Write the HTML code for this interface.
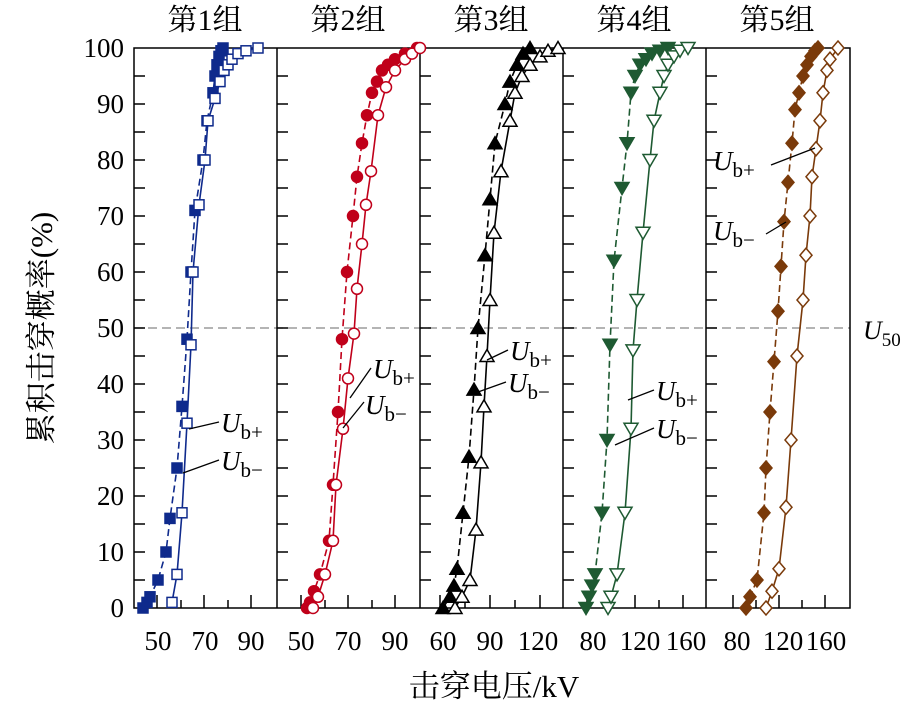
<!DOCTYPE html>
<html><head><meta charset="utf-8"><style>
html,body{margin:0;padding:0;background:#fff;}
svg{display:block;font-family:"Liberation Serif","Noto Serif CJK SC",serif;}
</style></head><body>
<svg id="s" width="912" height="704" viewBox="0 0 912 704" xmlns="http://www.w3.org/2000/svg">
<g font-size="30" text-anchor="middle" fill="#000">
<text x="205" y="30">第1组</text><text x="348" y="30">第2组</text><text x="491" y="30">第3组</text><text x="634" y="30">第4组</text><text x="777" y="30">第5组</text>
</g>
<text transform="translate(52,328) rotate(-90)" font-size="31" text-anchor="middle">累积击穿概率(%)</text>
<text x="494" y="697" font-size="31" text-anchor="middle">击穿电压/kV</text>
<g id="yl" font-size="27" text-anchor="end"></g>
<g id="xl" font-size="27" text-anchor="middle"></g>
<line x1="134" y1="328" x2="850" y2="328" stroke="#888" stroke-width="1.3" stroke-dasharray="9,5"/>
<text x="863" y="339" font-size="26" font-style="italic">U<tspan font-style="normal" font-size="19" dy="7">50</tspan></text>
<g id="ax" stroke="#000" stroke-width="1.5" fill="none"></g>
<g id="data"></g>
<g id="ann" font-size="27" stroke-width="1.3"></g>
</svg>
<script>
var NS="http://www.w3.org/2000/svg";
function el(p,t,a,txt){var e=document.createElementNS(NS,t);for(var k in a)e.setAttribute(k,a[k]);if(txt!=null)e.textContent=txt;document.getElementById(p).appendChild(e);return e;}
function Y(p){return 608-5.6*p;}
var B=[134,277,420,563,706,850];
el('ax','rect',{x:134,y:48,width:716,height:560});
for(var i=1;i<5;i++)el('ax','line',{x1:B[i],y1:48,x2:B[i],y2:608});
for(i=0;i<5;i++)for(var p=5;p<100;p+=5)el('ax','line',{x1:B[i],y1:Y(p),x2:B[i]+11,y2:Y(p)});
for(p=0;p<=100;p+=10)el('yl','text',{x:124,y:Y(p)+9},p);
var xt=[[157,181,204,228,251],[301,325,348,372,395],[440,465,490,515,540],[587,611,635,659,683],[733,756,779,802,825]];
var xlab=[[[158,50],[205,70],[251,90]],[[301,50],[348,70],[395,90]],[[443,60],[490,90],[538,120]],[[593,80],[640,120],[686,160]],[[737,80],[783,120],[826,160]]];
xt.forEach(function(a){a.forEach(function(x,k){el('ax','line',{x1:x,y1:608,x2:x,y2:608-(k%2==0?13:8)});});});
xlab.forEach(function(a){a.forEach(function(v){el('xl','text',{x:v[0],y:650},v[1]);});});
function marker(m,x,y,col,fill){var f=fill?col:'#fff',s=5;
 if(m=='sq')el('data','rect',{x:x-s,y:y-s,width:2*s,height:2*s,fill:f,stroke:col,'stroke-width':1.5});
 else if(m=='ci')el('data','circle',{cx:x,cy:y,r:5.5,fill:f,stroke:col,'stroke-width':1.5});
 else if(m=='tu')el('data','polygon',{points:(x)+','+(y-6.5)+' '+(x-7)+','+(y+5.5)+' '+(x+7)+','+(y+5.5),fill:f,stroke:col,'stroke-width':1.5});
 else if(m=='td')el('data','polygon',{points:(x)+','+(y+6.5)+' '+(x-7)+','+(y-5.5)+' '+(x+7)+','+(y-5.5),fill:f,stroke:col,'stroke-width':1.5});
 else el('data','polygon',{points:x+','+(y-7)+' '+(x+6)+','+y+' '+x+','+(y+7)+' '+(x-6)+','+y,fill:f,stroke:col,'stroke-width':1.5});}
function series(d,m,col,fill){var pts=d.map(function(q){return[q[1],Y(q[0])];});
 el('data','polyline',{points:pts.map(function(q){return q[0].toFixed(1)+','+q[1].toFixed(1)}).join(' '),fill:'none',stroke:col,'stroke-width':1.6,'stroke-dasharray':fill?'7,4':'none'});
 pts.forEach(function(q){marker(m,q[0],q[1],col,fill);});}
var BL='#0f2a8c',RD='#c0001a',BK='#000',GR='#1e5a32',BR='#7a3a0a';
series([[0,143],[1,147],[2,150],[5,158],[10,166],[16,170],[25,177],[36,182],[48,187],[60,191],[71,195],[80,203],[87,207],[92,213],[95,215],[97,217],[98.5,219],[99.5,221],[100,223]],'sq',BL,1);
series([[1,172],[6,177],[17,182],[33,187],[47,191],[60,193],[72,199],[80,205],[87,208],[91,215],[94,220],[96,224],[97,228],[98,232],[99,238],[99.5,246],[100,258]],'sq',BL,0);
series([[0,307],[1,310],[3,314],[6,320],[12,329],[22,333],[35,338],[48,342],[60,347],[70,353],[77,357],[83,362],[88,367],[92,372],[94,377],[96,382],[97,388],[98,395],[99,405],[100,417]],'ci',RD,1);
series([[0,313],[2,318],[6,325],[12,333],[22,336],[32,343],[41,348],[49,354],[57,357],[65,362],[72,366],[78,371],[88,378],[93,386],[96,395],[98,405],[99,412],[100,420]],'ci',RD,0);
series([[0,443],[2,450],[4,454],[7,457],[17,463],[27,469],[39,474],[50,478],[63,485],[73,490],[83,495],[90,505],[94,510],[97,517],[99,523],[100,530]],'tu',BK,1);
series([[0,455],[2,462],[5,470],[14,476],[26,481],[36,484],[45,487],[55,490],[67,494],[78,501],[87,510],[92,515],[95,522],[97,530],[98.5,540],[99.5,548],[100,558]],'tu',BK,0);
series([[0,586],[2,589],[4,592],[6,595],[17,602],[30,607],[47,610],[62,614],[75,622],[83,627],[92,631],[95,635],[97,640],[98,646],[99,652],[99.5,660],[100,668]],'td',GR,1);
series([[0,608],[2,611],[6,617],[17,625],[32,631],[46,633],[55,637],[67,643],[80,650],[87,654],[92,660],[95,664],[97,668],[98.5,674],[99.5,680],[100,688]],'td',GR,0);
series([[0,746],[2,750],[5,757],[17,764],[25,766],[35,770],[44,774],[53,778],[61,781],[69,784],[76,788],[83,792],[89,795],[92,799],[95,803],[97,807],[98.5,811],[99.5,815],[100,818]],'di',BR,1);
series([[0,766],[3,772],[7,779],[18,786],[30,791],[45,797],[55,803],[63,806],[70,810],[77,812],[82,816],[87,820],[92,823],[96,827],[98,830],[100,838]],'di',BR,0);
function lab(x,y,t,lx1,ly1,lx2,ly2){el('ann','line',{x1:lx1,y1:ly1,x2:lx2,y2:ly2,stroke:'#000'});var e=el('ann','text',{x:x,y:y,'font-style':'italic'},'U');var ts=document.createElementNS(NS,'tspan');ts.setAttribute('font-style','normal');ts.setAttribute('font-size','21');ts.setAttribute('dy','7');ts.textContent=t;e.appendChild(ts);}
lab(221,432,'b+',219,422,189,429);lab(221,470,'b−',219,460,183,473);
lab(373,378,'b+',371,368,350,398);lab(365,414,'b−',364,402,343,428);
lab(510,360,'b+',508,350,487,360);lab(508,392,'b−',506,382,478,392);
lab(656,400,'b+',654,390,628,400);lab(656,438,'b−',654,428,615,445);
lab(713,170,'b+',771,165,815,148);lab(713,240,'b−',766,234,786,222);
</script>
</body></html>
